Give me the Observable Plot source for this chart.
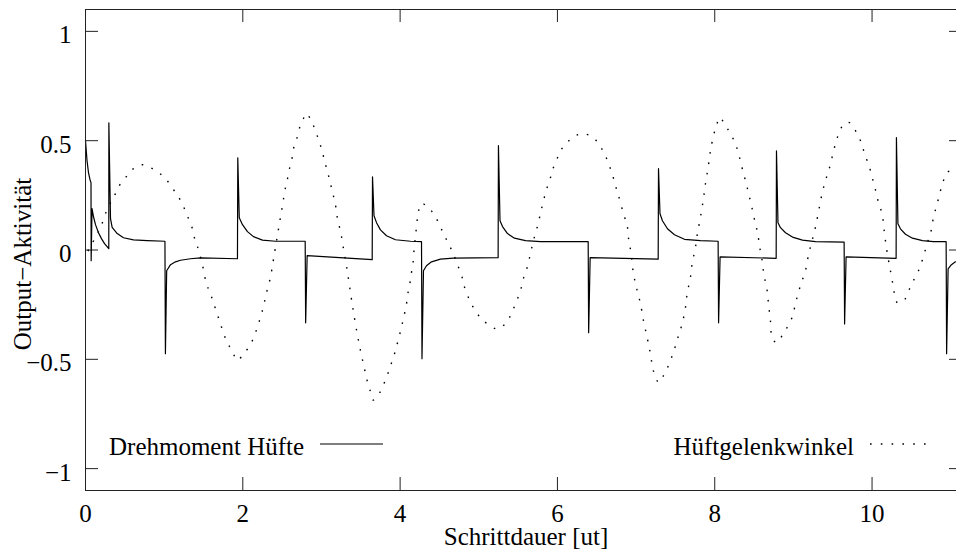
<!DOCTYPE html>
<html>
<head>
<meta charset="utf-8">
<script src="https://cdn.jsdelivr.net/npm/d3@7"></script>
<script src="https://cdn.jsdelivr.net/npm/@observablehq/plot@0.6"></script>
<style>
  html, body { margin: 0; padding: 0; overflow: hidden; background: #fff; }
</style>
</head>
<body>
<div id="chart"></div>
<script>
// Hip torque output (solid): [step time, activity]
const torque = [
  [0.000, 0.501], [0.019, 0.410], [0.038, 0.354], [0.057, 0.322], [0.070, 0.308],
  [0.072, -0.049], [0.083, 0.189], [0.102, 0.152], [0.127, 0.116], [0.165, 0.079],
  [0.203, 0.052], [0.242, 0.029], [0.296, 0.006],
  [0.297, 0.582], [0.318, 0.143], [0.339, 0.103], [0.403, 0.075], [0.483, 0.056],
  [0.610, 0.046], [0.784, 0.043], [1.010, 0.040],
  [1.016, -0.474], [1.032, -0.095], [1.081, -0.067], [1.144, -0.054], [1.208, -0.047],
  [1.335, -0.040], [1.462, -0.036], [1.932, -0.040],
  [1.936, 0.422], [1.955, 0.148], [1.996, 0.116], [2.059, 0.084], [2.136, 0.061],
  [2.250, 0.045], [2.415, 0.040], [2.793, 0.040],
  [2.799, -0.333], [2.818, -0.026], [3.645, -0.044],
  [3.649, 0.335], [3.668, 0.157], [3.700, 0.125], [3.750, 0.092], [3.827, 0.065],
  [3.941, 0.047], [4.132, 0.040], [4.272, 0.038],
  [4.278, -0.497], [4.297, -0.095], [4.335, -0.072], [4.399, -0.054], [4.513, -0.042],
  [4.678, -0.037], [5.246, -0.035],
  [5.250, 0.477], [5.270, 0.134], [5.302, 0.107], [5.365, 0.075], [5.454, 0.054],
  [5.594, 0.043], [5.784, 0.038], [6.391, 0.038],
  [6.397, -0.378], [6.416, -0.035], [7.281, -0.042],
  [7.285, 0.372], [7.304, 0.166], [7.335, 0.134], [7.399, 0.097], [7.488, 0.070],
  [7.615, 0.049], [7.818, 0.043], [8.043, 0.040],
  [8.049, -0.333], [8.068, -0.031], [8.781, -0.038],
  [8.785, 0.454], [8.804, 0.125], [8.836, 0.102], [8.900, 0.079], [8.988, 0.059],
  [9.116, 0.045], [9.281, 0.038], [9.645, 0.036],
  [9.651, -0.338], [9.670, -0.031], [10.306, -0.038],
  [10.310, 0.514], [10.329, 0.120], [10.361, 0.097], [10.425, 0.072], [10.514, 0.054],
  [10.641, 0.043], [10.781, 0.038], [10.942, 0.038],
  [10.948, -0.474], [10.967, -0.086], [11.009, -0.067], [11.060, -0.054], [11.124, -0.044],
  [11.150, -0.042]
];

// Hip joint angle (dotted): [step time, activity]
const angle = [
  [0.030, -0.005], [0.118, 0.052], [0.191, 0.102], [0.254, 0.166], [0.331, 0.225],
  [0.381, 0.258], [0.445, 0.303], [0.530, 0.340], [0.610, 0.372], [0.721, 0.390],
  [0.826, 0.376], [0.928, 0.354], [1.017, 0.327], [1.119, 0.276], [1.186, 0.241],
  [1.250, 0.195], [1.293, 0.157], [1.348, 0.111], [1.377, 0.065], [1.420, 0.020],
  [1.484, -0.064], [1.538, -0.154], [1.589, -0.200], [1.631, -0.246], [1.674, -0.292],
  [1.716, -0.338], [1.758, -0.383], [1.801, -0.423], [1.865, -0.461], [1.929, -0.505],
  [2.012, -0.474], [2.072, -0.446], [2.140, -0.400], [2.183, -0.354], [2.225, -0.308],
  [2.259, -0.263], [2.288, -0.217], [2.318, -0.171], [2.352, -0.125], [2.373, -0.080],
  [2.394, -0.034], [2.415, 0.012], [2.437, 0.058], [2.457, 0.103], [2.479, 0.149],
  [2.501, 0.195], [2.521, 0.241], [2.543, 0.286], [2.572, 0.332], [2.597, 0.378],
  [2.628, 0.424], [2.648, 0.469], [2.691, 0.515], [2.724, 0.561], [2.768, 0.599],
  [2.810, 0.625], [2.869, 0.591], [2.924, 0.546], [2.966, 0.500], [3.009, 0.454],
  [3.038, 0.408], [3.073, 0.363], [3.106, 0.317], [3.136, 0.271], [3.166, 0.226],
  [3.191, 0.180], [3.207, 0.134], [3.242, 0.088], [3.263, 0.043], [3.284, -0.003],
  [3.306, -0.049], [3.328, -0.094], [3.347, -0.140], [3.369, -0.195], [3.390, -0.245],
  [3.411, -0.293], [3.454, -0.382], [3.496, -0.461], [3.538, -0.528], [3.581, -0.598],
  [3.623, -0.648], [3.657, -0.686], [3.729, -0.659], [3.792, -0.613], [3.843, -0.567],
  [3.886, -0.521], [3.928, -0.476], [3.963, -0.430], [3.996, -0.384], [4.026, -0.339],
  [4.055, -0.293], [4.081, -0.247], [4.098, -0.201], [4.123, -0.156], [4.141, -0.110],
  [4.163, -0.063], [4.176, -0.003], [4.195, 0.061], [4.214, 0.126], [4.233, 0.176],
  [4.268, 0.213], [4.357, 0.195], [4.424, 0.166], [4.488, 0.125], [4.551, 0.075],
  [4.615, 0.029], [4.675, -0.016], [4.725, -0.063], [4.789, -0.125], [4.805, -0.154],
  [4.869, -0.218], [4.933, -0.264], [5.022, -0.310], [5.107, -0.337], [5.234, -0.361],
  [5.339, -0.337], [5.403, -0.300], [5.467, -0.246], [5.530, -0.186], [5.572, -0.125],
  [5.615, -0.080], [5.657, -0.017], [5.695, 0.043], [5.742, 0.103], [5.784, 0.166],
  [5.823, 0.226], [5.869, 0.286], [5.912, 0.332], [5.950, 0.378], [5.997, 0.418],
  [6.039, 0.454], [6.124, 0.492], [6.229, 0.523], [6.335, 0.531], [6.454, 0.515],
  [6.538, 0.477], [6.598, 0.441], [6.649, 0.395], [6.696, 0.349], [6.738, 0.294],
  [6.777, 0.248], [6.840, 0.166], [6.887, 0.111], [6.903, 0.056], [6.937, -0.017],
  [6.967, -0.108], [7.014, -0.186], [7.056, -0.246], [7.094, -0.323], [7.141, -0.400],
  [7.182, -0.474], [7.220, -0.552], [7.288, -0.606], [7.348, -0.575], [7.411, -0.529],
  [7.459, -0.484], [7.501, -0.438], [7.539, -0.392], [7.586, -0.337], [7.628, -0.263],
  [7.649, -0.200], [7.691, -0.125], [7.713, -0.063], [7.755, 0.012], [7.780, 0.075],
  [7.818, 0.149], [7.853, 0.226], [7.882, 0.303], [7.916, 0.378], [7.946, 0.454],
  [7.984, 0.523], [8.022, 0.569], [8.064, 0.607], [8.136, 0.569], [8.200, 0.532],
  [8.263, 0.486], [8.302, 0.441], [8.336, 0.395], [8.365, 0.349], [8.403, 0.303],
  [8.429, 0.258], [8.463, 0.212], [8.488, 0.166], [8.518, 0.120], [8.547, 0.075],
  [8.572, 0.012], [8.603, -0.049], [8.623, -0.108], [8.666, -0.186], [8.683, -0.246],
  [8.708, -0.323], [8.730, -0.400], [8.785, -0.424], [8.857, -0.392], [8.921, -0.354],
  [8.984, -0.308], [9.026, -0.246], [9.064, -0.194], [9.111, -0.140], [9.153, -0.095],
  [9.195, -0.017], [9.238, 0.043], [9.280, 0.103], [9.322, 0.180], [9.365, 0.258],
  [9.407, 0.317], [9.449, 0.363], [9.492, 0.424], [9.535, 0.486], [9.577, 0.532],
  [9.640, 0.576], [9.704, 0.584], [9.789, 0.546], [9.853, 0.500], [9.894, 0.454],
  [9.938, 0.408], [9.980, 0.363], [10.022, 0.303], [10.056, 0.258], [10.085, 0.212],
  [10.128, 0.166], [10.149, 0.103], [10.170, 0.043], [10.199, -0.026], [10.234, -0.095],
  [10.268, -0.163], [10.285, -0.200], [10.323, -0.241], [10.403, -0.232], [10.466, -0.186],
  [10.526, -0.140], [10.590, -0.095], [10.650, -0.034], [10.700, 0.029], [10.751, 0.088],
  [10.781, 0.149], [10.828, 0.212], [10.870, 0.271], [10.908, 0.317], [10.955, 0.355],
  [11.018, 0.363], [11.086, 0.354]
];

const xTicks = [0, 2, 4, 6, 8, 10];
const yTicks = [-1, -0.5, 0, 0.5, 1];
const seriesNames = ["Drehmoment Hüfte", "Hüftgelenkwinkel"];
const xLabel = "Schrittdauer [ut]";
const yLabel = "Output−Aktivität";

// Layout: the right edge of the frame runs just past the window edge
const W = 970, H = 550, mL = 85, mR = 8, mT = 9, mB = 60;
const innerW = W - mL - mR, innerH = H - mT - mB;
const TICK = 13;
const FONT = "'Liberation Serif', 'Times New Roman', Times, serif";

// plain numbers with a true minus sign: −1, −0.5, 0, 0.5, 1
const numFmt = d => (d < 0 ? "\u2212" : "") + String(Math.abs(d));

const chart = Plot.plot({
  width: W,
  height: H,
  marginLeft: mL,
  marginRight: mR,
  marginTop: mT,
  marginBottom: mB,
  style: { fontFamily: FONT, fontSize: "25px", background: "white", color: "black", maxWidth: "none" },
  x: { domain: [0, 11.15] },
  y: { domain: [-1.1, 1.1] },
  marks: [
    Plot.axisX({ ticks: xTicks, tickFormat: numFmt, tickSize: 0, tickPadding: 14, fontSize: 25, label: null }),
    Plot.axisY({ ticks: yTicks, tickFormat: numFmt, tickSize: 0, tickPadding: 14, dy: 4, fontSize: 25, label: null }),
    // inward tick marks on all four sides
    Plot.tickX(xTicks, { x: d => d, insetTop: innerH - TICK, stroke: "#222" }),
    Plot.tickX(xTicks, { x: d => d, insetBottom: innerH - TICK, stroke: "#222" }),
    Plot.tickY(yTicks, { y: d => d, insetRight: innerW - TICK, stroke: "#222" }),
    Plot.tickY(yTicks, { y: d => d, insetLeft: innerW - TICK, stroke: "#222" }),
    Plot.line(angle, { x: d => d[0], y: d => d[1], stroke: "black", strokeWidth: 1.4,
      strokeDasharray: "1.6,8.8", strokeLinecap: "butt", curve: "catmull-rom" }),
    Plot.line(torque, { x: d => d[0], y: d => d[1], stroke: "black", strokeWidth: 1.2 }),
    Plot.frame({ stroke: "#222" }),
    Plot.text([xLabel], { text: d => d, frameAnchor: "bottom", textAnchor: "middle", dx: 2, dy: 54, lineAnchor: "bottom", fontSize: 25 }),
    Plot.text([yLabel], { text: d => d, frameAnchor: "left", textAnchor: "middle", rotate: -90, dx: -55, dy: 14, lineAnchor: "bottom", fontSize: 25 })
  ]
});

document.getElementById("chart").appendChild(chart);

// Key inside the lower part of the frame
const svg = d3.select(chart);
const bottom = H - mB;
const key = svg.append("g")
  .attr("font-family", FONT)
  .attr("font-size", 25)
  .attr("fill", "black");
key.append("text").attr("x", mL + 24).attr("y", bottom - 35)
  .attr("text-anchor", "start").text(seriesNames[0]);
key.append("line").attr("x1", 320).attr("x2", 383).attr("y1", bottom - 46).attr("y2", bottom - 46)
  .attr("stroke", "black").attr("stroke-width", 1.2);
key.append("text").attr("x", 854).attr("y", bottom - 35)
  .attr("text-anchor", "end").text(seriesNames[1]);
key.append("line").attr("x1", 870).attr("x2", 926).attr("y1", bottom - 46).attr("y2", bottom - 46)
  .attr("stroke", "black").attr("stroke-width", 1.4).attr("stroke-dasharray", "1.6,9.2");
</script>
</body>
</html>
